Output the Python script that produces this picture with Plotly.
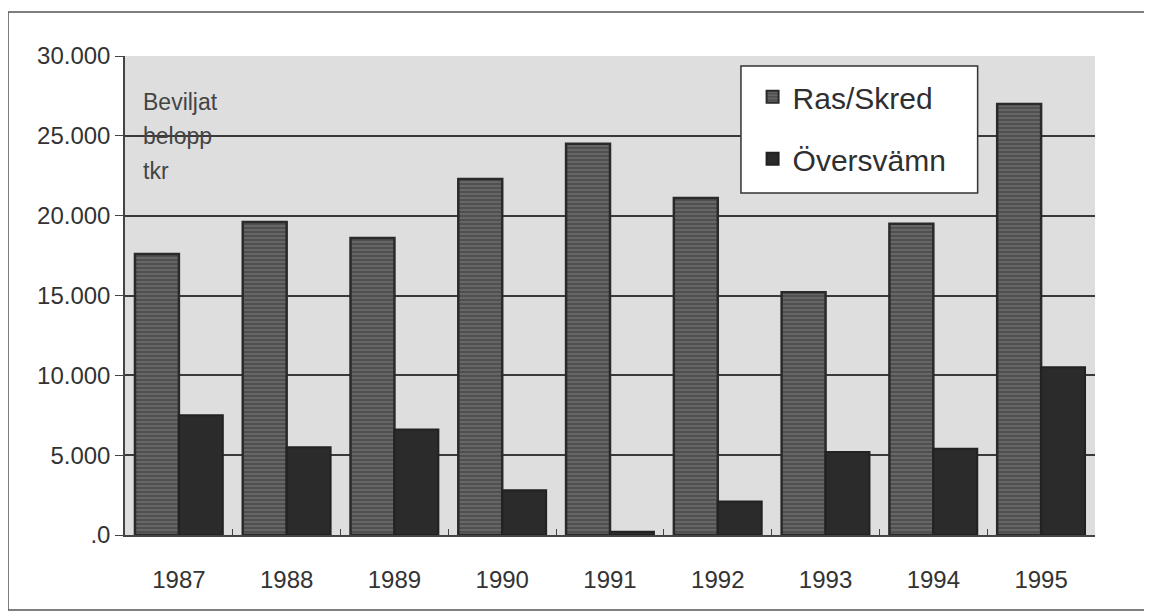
import plotly.graph_objects as go

years = ["1987", "1988", "1989", "1990", "1991", "1992", "1993", "1994", "1995"]
ras_skred = [17600, 19600, 18600, 22300, 24500, 21100, 15200, 19500, 27000]
oversvamn = [7500, 5500, 6600, 2800, 200, 2100, 5200, 5400, 10500]
y_ticks = [0, 5000, 10000, 15000, 20000, 25000, 30000]
y_tick_text = [".0", "5.000", "10.000", "15.000", "20.000", "25.000", "30.000"]
unit_lines = ["Beviljat", "belopp", "tkr"]

font_family = "Liberation Sans, Arial, sans-serif"

fig = go.Figure()
fig.add_bar(
    name="Ras/Skred", x=years, y=ras_skred, legendgroup="a",
    marker=dict(
        color="#505050",
        line=dict(color="#2a2a2a", width=2.5),
        pattern=dict(shape="-", fgcolor="#9a9a9a", bgcolor="#505050", size=4, solidity=0.3),
    ),
)
fig.add_bar(
    name="Översvämn", x=years, y=oversvamn, legendgroup="b",
    marker=dict(color="#2b2b2b", line=dict(color="#222222", width=2)),
)

# the page sits 8px in from the window edge, so margins are shifted by that
fig.update_layout(
    width=1152, height=612,
    barmode="group", bargap=0.185, bargroupgap=0,
    margin=dict(l=117, r=65, t=48, b=85),
    paper_bgcolor="white", plot_bgcolor="#dedede",
    font=dict(family=font_family, color="#333333", size=24),
    showlegend=True,
    legend=dict(
        x=0.647, y=0.969, xanchor="left", yanchor="top",
        bgcolor="rgba(0,0,0,0)", borderwidth=0,
        font=dict(size=30, color="#2f2f2f"),
        itemsizing="constant", tracegroupgap=20,
    ),
    xaxis=dict(
        showgrid=False, showline=True, linecolor="#444444", linewidth=1.5,
        ticks="inside", tickson="boundaries", ticklen=6, tickcolor="#444444",
        tickfont=dict(size=24, color="#333333"), ticklabelstandoff=22,
    ),
    yaxis=dict(
        range=[0, 30000], tickvals=y_ticks, ticktext=y_tick_text,
        showgrid=True, gridcolor="#3a3a3a", gridwidth=2,
        showline=True, linecolor="#444444", linewidth=1.5,
        ticks="outside", ticklen=8, tickcolor="#444444",
        tickfont=dict(size=24, color="#333333"), zeroline=False,
    ),
    annotations=[
        dict(
            x=0.017, y=0.905 - i * 0.073, xref="paper", yref="paper",
            xanchor="left", yanchor="middle",
            text=t, showarrow=False, align="left",
            font=dict(size=23, color="#444444"),
        )
        for i, t in enumerate(unit_lines)
    ],
    shapes=[
        # outer frame
        dict(
            type="rect", xref="paper", yref="paper",
            x0=-0.1206, x1=1.0567, y0=-0.1566, y1=1.0919,
            line=dict(color="#555555", width=1.5), fillcolor="rgba(0,0,0,0)", layer="below",
        ),
        # legend box
        dict(
            type="rect", xref="paper", yref="paper",
            x0=0.635, x1=0.879, y0=0.714, y1=0.979,
            line=dict(color="#333333", width=1.5), fillcolor="white", layer="above",
        ),
    ],
)

fig.write_html("out.html")
